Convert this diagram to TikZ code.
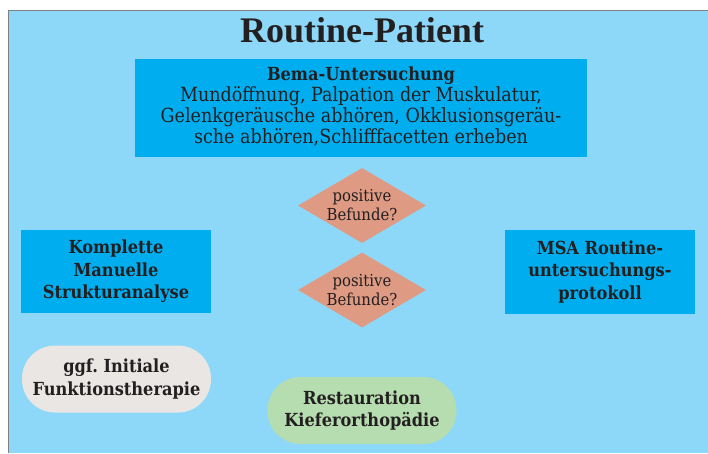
\documentclass[tikz,border=0pt]{standalone}
\usepackage{fontspec}
\setmainfont{DejaVu Serif Condensed}
\newfontfamily\titlefont{Liberation Serif}
\usetikzlibrary{shapes.geometric}
\definecolor{bg}{RGB}{141,216,248}
\definecolor{boxblue}{RGB}{0,174,239}
\definecolor{salmon}{RGB}{222,154,130}
\definecolor{pale}{RGB}{234,230,228}
\definecolor{mint}{RGB}{182,221,176}
\definecolor{ink}{RGB}{35,31,32}
\begin{document}
\frenchspacing
\begin{tikzpicture}[x=1pt,y=-1pt,
  every node/.style={text=ink, align=center, inner sep=0pt},
  every label/.style={text=ink, align=center, inner sep=0pt},
  bluebox/.style={fill=boxblue, draw=none},
  boldtext/.style={font=\fontsize{18}{22.5}\selectfont\bfseries},
  decision/.style={diamond, fill=salmon, minimum width=128pt, minimum height=75pt,
    label={[font=\fontsize{16.5}{19}\selectfont]center:#1}},
  pill/.style={fill=#1, rounded corners=33pt, minimum width=189pt, minimum height=67pt,
    font=\fontsize{18}{22.5}\selectfont\bfseries}]
\useasboundingbox (0,0) rectangle (708,453);
\fill[white] (0,0) rectangle (708,453);
\fill[bg] (8,10) rectangle (708,453);
\draw[gray, line width=1pt] (8,453) -- (8,10) -- (708,10);

\node[font=\titlefont\fontsize{36}{40}\selectfont\bfseries, anchor=base] (title) at (362,42) {Routine-Patient};

\node[bluebox, minimum width=452pt, minimum height=98pt] (bema) at (361,108) {};
\node[font=\fontsize{19.5}{21}\selectfont] (bematext) at (361,106)
  {{\fontsize{18}{21}\selectfont\bfseries Bema-Untersuchung}\\
   Mundöffnung, Palpation der Muskulatur,\\
   Gelenkgeräusche abhören, Okklusionsgeräu-\\
   sche abhören,Schlifffacetten erheben};

\node[decision={positive\\Befunde?}] (d1) at (362,205.5) {};
\node[decision={positive\\Befunde?}] (d2) at (362,290) {};

\node[bluebox, boldtext, minimum width=190pt, minimum height=83pt] (kms) at (116,271.5)
  {Komplette\\Manuelle\\Strukturanalyse};
\node[bluebox, boldtext, minimum width=190pt, minimum height=84pt] (msa) at (600,272)
  {MSA Routine-\\untersuchungs-\\protokoll};

\node[pill=pale] (ggf) at (116.5,379) {ggf. Initiale\\Funktionstherapie};
\node[pill=mint] (rest) at (362,410.5) {Restauration\\Kieferorthopädie};
\end{tikzpicture}
\end{document}
